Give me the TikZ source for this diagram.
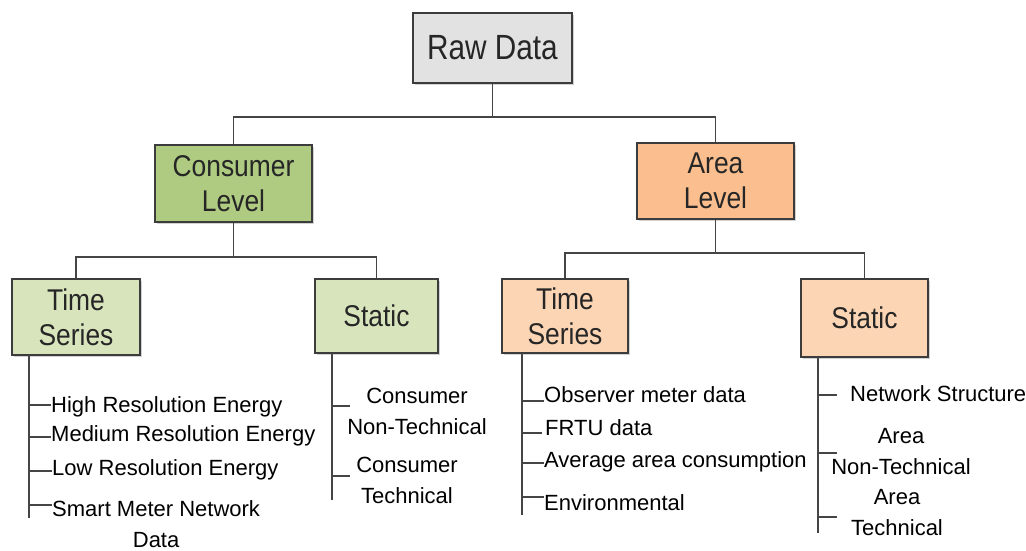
\documentclass[tikz,border=0pt]{standalone}
\usepackage{fontspec}
\setmainfont{Liberation Sans}
\newfontfamily\boxfont{Liberation Sans}[FakeStretch=0.88]
\newfontfamily\rawfont{Liberation Sans}[FakeStretch=0.85]
\newfontfamily\leaffont{Liberation Sans}[FakeStretch=1.0]
\usetikzlibrary{shadows}
\definecolor{edgegray}{HTML}{3C3C3C}
\definecolor{linegray}{HTML}{454545}
\definecolor{rawfill}{HTML}{E2E2E2}
\definecolor{greendark}{HTML}{AFCB82}
\definecolor{greenlight}{HTML}{D8E4BC}
\definecolor{orangedark}{HTML}{FBBF8F}
\definecolor{orangelight}{HTML}{FCD5B5}
\tikzset{
  catbox/.style={draw=edgegray, line width=1.8pt, inner sep=0pt, align=center,
    font=\boxfont\fontsize{30}{35}\selectfont, text=black!85,
    drop shadow={shadow xshift=1.5pt, shadow yshift=-1.5pt, fill=black!35}},
  conn/.style={draw=linegray, line width=1.9pt},
  tick/.style={draw=linegray, line width=1.6pt},
  leaf/.style={font=\leaffont\fontsize{22}{31}\selectfont, inner sep=0pt, align=center, text=black}
}
\begin{document}
\begin{tikzpicture}[x=1pt, y=-1pt]
\useasboundingbox (0,0) rectangle (1026,550);

% category boxes
\node[catbox, fill=rawfill, minimum width=159pt, minimum height=70pt,
      font=\rawfont\fontsize{35}{40}\selectfont] (raw) at (492.5,48) {Raw Data};
\node[catbox, fill=greendark, minimum width=157pt, minimum height=77pt] (cons) at (233.5,183.5) {Consumer\\Level};
\node[catbox, fill=orangedark, minimum width=157pt, minimum height=76pt] (area) at (715.5,181) {Area\\Level};
\node[catbox, fill=greenlight, minimum width=128pt, minimum height=76pt] (cts) at (76,317) {Time\\Series};
\node[catbox, fill=greenlight, minimum width=123pt, minimum height=74pt] (cst) at (376.5,316) {Static};
\node[catbox, fill=orangelight, minimum width=126pt, minimum height=74pt] (ats) at (565,316) {Time\\Series};
\node[catbox, fill=orangelight, minimum width=127pt, minimum height=78pt] (ast) at (864.5,318) {Static};

% tree connectors
\coordinate (b0) at (492.5,117);
\coordinate (b1) at (233.5,257);
\coordinate (b2) at (715.5,253);
\draw[conn] (raw.south) -- (b0);
\draw[conn] (b0) -| (cons.north);
\draw[conn] (b0) -| (area.north);
\draw[conn] (cons.south) -- (b1);
\draw[conn] (b1) -| (cts.north);
\draw[conn] (b1) -| (cst.north);
\draw[conn] (area.south) -- (b2);
\draw[conn] (b2) -| (ats.north);
\draw[conn] (b2) -| (ast.north);

% consumer time series leaves
\coordinate (s1) at (29,355); \coordinate (e1) at (29,518);
\draw[conn] (s1) -- (e1);
\node[leaf, anchor=west] (l11) at (51,407) {High Resolution Energy};
\node[leaf, anchor=west] (l12) at (51,436) {Medium Resolution Energy};
\node[leaf, anchor=west] (l13) at (52,470) {Low Resolution Energy};
\node[leaf, anchor=west] (l14) at (52,524) {Smart Meter Network\\Data};
\draw[tick] (29,405) -- (l11.west |- 0,405);
\draw[tick] (29,437) -- (l12.west |- 0,437);
\draw[tick] (29,471) -- (l13.west |- 0,471);
\draw[tick] (29,505) -- (l14.west |- 0,505);

% consumer static leaves
\coordinate (s2) at (332,353); \coordinate (e2) at (332,500);
\draw[conn] (s2) -- (e2);
\node[leaf] (l21) at (417,411) {Consumer\\Non-Technical};
\node[leaf] (l22) at (407,480) {Consumer\\Technical};
\draw[tick] (332,406) -- (350,406);
\draw[tick] (332,476) -- (350,476);

% area time series leaves
\coordinate (s3) at (522,353); \coordinate (e3) at (522,515);
\draw[conn] (s3) -- (e3);
\node[leaf, anchor=west] (l31) at (544,395) {Observer meter data};
\node[leaf, anchor=west] (l32) at (545,428) {FRTU data};
\node[leaf, anchor=west] (l33) at (544,462) {Average area consumption};
\node[leaf, anchor=west] (l34) at (544,503) {Environmental};
\draw[tick] (522,401) -- (l31.west |- 0,401);
\draw[tick] (522,433) -- (542,433);
\draw[tick] (522,463) -- (l33.west |- 0,463);
\draw[tick] (522,497) -- (l34.west |- 0,497);

% area static leaves
\coordinate (s4) at (818,357); \coordinate (e4) at (818,533);
\draw[conn] (s4) -- (e4);
\node[leaf, anchor=west] (l41) at (850,394) {Network Structure};
\node[leaf] (l42) at (901,452) {Area\\Non-Technical};
\node[leaf] (l43) at (897,513) {Area\\Technical};
\draw[tick] (818,395) -- (837,395);
\draw[tick] (818,453) -- (837,453);
\draw[tick] (818,517) -- (837,517);
\end{tikzpicture}
\end{document}
